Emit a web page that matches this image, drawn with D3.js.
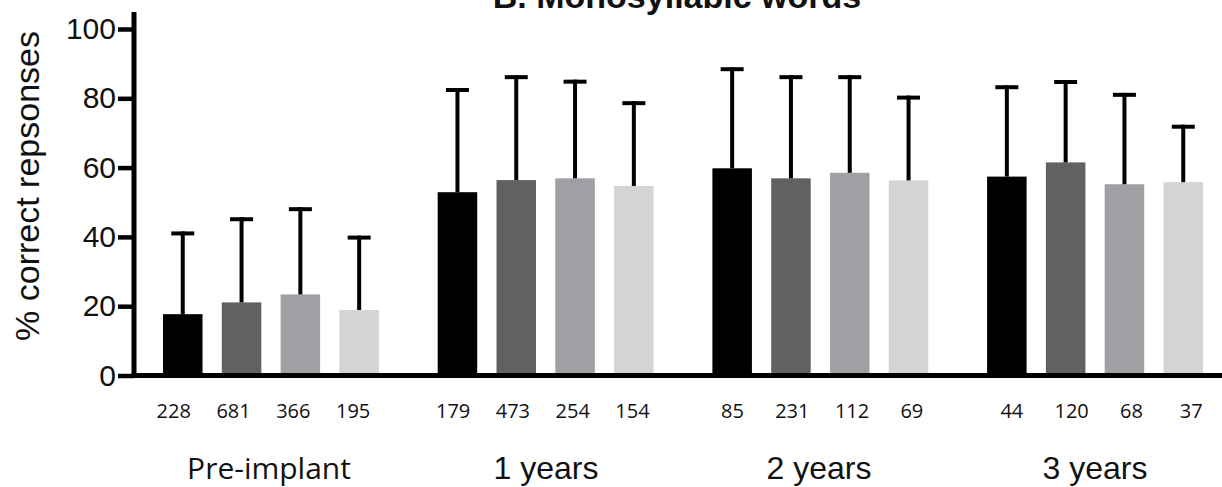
<!DOCTYPE html>
<html>
<head>
<meta charset="utf-8">
<script src="https://cdn.jsdelivr.net/npm/d3@7"></script>
<style>
  html, body { margin: 0; padding: 0; background: #fff; }
  svg { display: block; }
</style>
</head>
<body>
<svg id="chart" width="1222" height="487"></svg>
<script>
// ---- data ----
const groups = ["Pre-implant", "1 years", "2 years", "3 years"];
const series = ["A", "B", "C", "D"];
const means = [
  [17.7, 21.1, 23.4, 18.9],
  [52.9, 56.4, 56.9, 54.7],
  [59.8, 56.9, 58.5, 56.3],
  [57.4, 61.5, 55.2, 55.8]
];
const sds = [
  [23.3, 24.0, 24.6, 20.9],
  [29.5, 29.7, 27.9, 23.9],
  [28.6, 29.2, 27.6, 23.9],
  [25.8, 23.2, 25.8, 16.0]
];
const counts = [
  [228, 681, 366, 195],
  [179, 473, 254, 154],
  [85, 231, 112, 69],
  [44, 120, 68, 37]
];
const yTicks = [0, 20, 40, 60, 80, 100];
const title = "B. Monosyllabic words";
const yTitle = "% correct repsonses";

// ---- layout ----
const colors = ["#000000", "#616161", "#a09fa4", "#d4d4d4"];
const svg = d3.select("#chart");

const y = d3.scaleLinear().domain([0, 100]).range([375.5, 29]);
const x0 = d3.scaleBand().domain(groups).range([163, 1203]).paddingInner(0.214).paddingOuter(0);
const x1 = d3.scaleBand().domain(series).range([0, x0.bandwidth()]).paddingInner(0.328).paddingOuter(0);

const rows = [];
groups.forEach((g, gi) => series.forEach((s, si) => {
  rows.push({ g, s, si, mean: means[gi][si], sd: sds[gi][si], n: counts[gi][si] });
}));
const cx = d => x0(d.g) + x1(d.s) + x1.bandwidth() / 2;

// count labels sit on a slightly stretched copy of the bar positions
const firstC = cx(rows[0]), lastC = cx(rows[rows.length - 1]);
const labelX = d3.scaleLinear().domain([firstC, lastC]).range([firstC - 9, lastC + 8]);

// title (partially cut off at the top, as in the reference)
svg.append("text")
  .attr("x", 677).attr("y", 8)
  .attr("text-anchor", "middle")
  .attr("font-family", "Liberation Sans, Arial, sans-serif")
  .attr("font-weight", "bold")
  .attr("font-size", 34)
  .attr("fill", "#111")
  .text(title);

// bars
svg.append("g").selectAll("rect").data(rows).join("rect")
  .attr("x", d => x0(d.g) + x1(d.s))
  .attr("width", x1.bandwidth())
  .attr("y", d => y(d.mean))
  .attr("height", d => y(0) - y(d.mean))
  .attr("fill", d => colors[d.si]);

// error bars (upper only)
const eb = svg.append("g").attr("stroke", "#000").attr("stroke-width", 4).attr("fill", "none");
eb.selectAll("line.v").data(rows).join("line").attr("class", "v")
  .attr("x1", cx).attr("x2", cx)
  .attr("y1", d => y(d.mean)).attr("y2", d => y(d.mean + d.sd) - 2);
eb.selectAll("line.c").data(rows).join("line").attr("class", "c")
  .attr("x1", d => cx(d) - 11.5).attr("x2", d => cx(d) + 11.5)
  .attr("y1", d => y(d.mean + d.sd)).attr("y2", d => y(d.mean + d.sd));

// y axis
const yAxis = d3.axisLeft(y).tickValues(yTicks).tickSize(16).tickPadding(2).tickSizeOuter(0);
const ya = svg.append("g").attr("transform", "translate(134,0)").call(yAxis);
ya.select(".domain").remove();
ya.selectAll(".tick line").attr("stroke", "#000").attr("stroke-width", 4.5);
ya.selectAll(".tick text")
  .attr("font-family", "Liberation Sans, Arial, sans-serif")
  .attr("font-size", 30)
  .attr("fill", "#111");

// axis lines
svg.append("line").attr("x1", 134).attr("x2", 134).attr("y1", 12).attr("y2", y(0) + 2.5)
  .attr("stroke", "#000").attr("stroke-width", 5);
svg.append("line").attr("x1", 131.5).attr("x2", 1222).attr("y1", y(0)).attr("y2", y(0))
  .attr("stroke", "#000").attr("stroke-width", 5);

// y title
svg.append("text")
  .attr("transform", "translate(39,186) rotate(-90)")
  .attr("text-anchor", "middle")
  .attr("font-family", "Liberation Sans, Arial, sans-serif")
  .attr("font-size", 34)
  .attr("fill", "#111")
  .text(yTitle);

// counts
svg.append("g").selectAll("text").data(rows).join("text")
  .attr("x", d => labelX(cx(d)))
  .attr("y", 418)
  .attr("text-anchor", "middle")
  .attr("font-family", "Open Sans, sans-serif")
  .attr("font-size", 20)
  .attr("fill", "#111")
  .text(d => d.n);

// group labels
svg.append("g").selectAll("text").data(groups).join("text")
  .attr("x", (g, i) => [269, 546, 819, 1095][i])
  .attr("y", 479)
  .attr("text-anchor", "middle")
  .attr("font-family", (g, i) => i === 0 ? "Open Sans, sans-serif" : "Liberation Sans, Arial, sans-serif")
  .attr("font-size", (g, i) => i === 0 ? 30 : 32)
  .attr("fill", "#111")
  .text(g => g);
</script>
</body>
</html>
